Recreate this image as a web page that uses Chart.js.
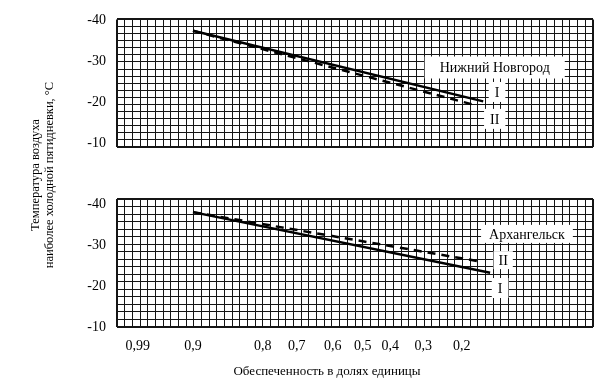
<!DOCTYPE html>
<html>
<head>
<meta charset="utf-8">
<script src="https://cdn.jsdelivr.net/npm/chart.js@4.4.0/dist/chart.umd.min.js"></script>
<style>
  body { margin: 0; background: #fff; }
  .wrap { position: relative; width: 612px; height: 385px; }
  .wrap canvas { position: absolute; left: 0; top: 0; }
</style>
</head>
<body>
<div class="wrap">
  <canvas id="top" width="612" height="385"></canvas>
  <canvas id="bottom" width="612" height="385"></canvas>
</div>
<script>
// probability paper: x in grid cells (0..62), labels placed where the paper prints them
const probLabels = ['0,99', '0,9', '0,8', '0,7', '0,6', '0,5', '0,4', '0,3', '0,2'];
const probPos = [2.7, 9.9, 19.0, 23.4, 28.1, 32.0, 35.6, 39.9, 44.9];
const tempTicks = [-40, -30, -20, -10];

// Нижний Новгород
const nnXI = [9.9, 47.7];
const nnI = [-37.5, -20.2];
const nnXII = [9.9, 46.8];
const nnII = [-37.5, -19.2];

// Архангельск
const arXI = [9.9, 48.6];
const arI = [-38.0, -23.2];
const arXII = [9.9, 47.5];
const arII = [-38.0, -25.9];

const serif = '"Liberation Serif", "DejaVu Serif", serif';
const gridColor = '#151515';

const pts = (xs, ys) => xs.map((x, i) => ({ x: x, y: ys[i] }));

// frame lines a bit heavier than the paper grid
const edgeWidth = c => (c.tick && (c.index === 0 || c.tick.value === c.scale.max)) ? 2 : 1;

// white boxed labels on the paper
const tagsPlugin = {
  id: 'tags',
  afterDatasetsDraw(chart, args, opts) {
    const ctx = chart.ctx;
    const xs = chart.scales.x, ys = chart.scales.y;
    ctx.save();
    ctx.font = '14px ' + serif;
    ctx.textAlign = 'center';
    ctx.textBaseline = 'middle';
    (opts.items || []).forEach(t => {
      const px = xs.getPixelForValue(t.x);
      const py = ys.getPixelForValue(t.y);
      const w = ctx.measureText(t.text).width + t.padX * 2;
      const h = 14 + t.padY * 2;
      ctx.fillStyle = '#fff';
      ctx.fillRect(px - w / 2, py - h / 2, w, h);
      ctx.fillStyle = '#000';
      ctx.fillText(t.text, px, py + 1);
    });
    ctx.restore();
  }
};

// shared y title spanning both panels
const yTitlePlugin = {
  id: 'ytitle',
  afterDraw(chart, args, opts) {
    if (!opts.lines) return;
    const ctx = chart.ctx;
    ctx.save();
    ctx.font = '12.5px ' + serif;
    ctx.fillStyle = '#000';
    ctx.textAlign = 'center';
    ctx.textBaseline = 'middle';
    opts.lines.forEach((line, i) => {
      ctx.save();
      ctx.translate(opts.x + i * 14, opts.y);
      ctx.rotate(-Math.PI / 2);
      ctx.fillText(line, 0, 0);
      ctx.restore();
    });
    ctx.restore();
  }
};

Chart.register(tagsPlugin, yTitlePlugin);

function makePanel(canvasId, cfg) {
  const scales = {
    x: {
      type: 'linear', min: 0, max: 62,
      display: cfg.showX,
      grid: { display: false, drawTicks: false },
      border: { display: false },
      afterBuildTicks: s => { s.ticks = probPos.map(v => ({ value: v })); },
      afterFit: s => { s.height = cfg.showX ? 32.4 : 0; },
      ticks: {
        autoSkip: false, maxRotation: 0, padding: 11, color: '#000',
        font: { family: serif, size: 14 },
        callback: (v, i) => probLabels[i]
      }
    },
    xg: {
      type: 'linear', min: 0, max: 62, position: 'bottom',
      grid: { color: gridColor, lineWidth: edgeWidth, drawTicks: false },
      border: { display: false },
      ticks: { display: false, stepSize: 1 },
      afterFit: s => { s.height = 0; }
    },
    y: {
      type: 'linear', reverse: true, min: cfg.yMin, max: cfg.yMax,
      grid: { display: false, drawTicks: false },
      border: { display: false },
      afterBuildTicks: s => { s.ticks = tempTicks.map(v => ({ value: v })); },
      afterFit: s => { s.width = 56; },
      ticks: {
        padding: 11, color: '#000',
        font: { family: serif, size: 14 }
      }
    },
    yg: {
      type: 'linear', min: 0, max: cfg.rows, position: 'left',
      grid: { color: gridColor, lineWidth: edgeWidth, drawTicks: false },
      border: { display: false },
      ticks: { display: false, stepSize: 1 },
      afterFit: s => { s.width = 0; }
    }
  };

  return new Chart(document.getElementById(canvasId), {
    type: 'line',
    data: {
      datasets: [
        {
          label: 'I',
          data: cfg.lineI,
          borderColor: '#000', borderWidth: 2.5,
          pointRadius: 0, tension: 0
        },
        {
          label: 'II',
          data: cfg.lineII,
          borderColor: '#000', borderWidth: 2.5, borderDash: [8, 6],
          pointRadius: 0, tension: 0
        }
      ]
    },
    options: {
      responsive: false,
      animation: false,
      devicePixelRatio: 1,
      layout: { padding: cfg.padding },
      scales: scales,
      plugins: {
        legend: { display: false },
        tooltip: { enabled: false },
        title: cfg.title,
        tags: { items: cfg.tags },
        ytitle: cfg.ytitle
      }
    }
  });
}

makePanel('top', {
  showX: false,
  yMin: -40.3, yMax: -9.0, rows: 18,
  padding: { left: 61, right: 19, top: 15, bottom: 238 },
  lineI: pts(nnXI, nnI),
  lineII: pts(nnXII, nnII),
  title: { display: false },
  ytitle: {},
  tags: [
    { text: 'Нижний Новгород', x: 49.2, y: -28.5, padX: 15, padY: 4 },
    { text: 'I', x: 49.5, y: -22.5, padX: 6, padY: 3 },
    { text: 'II', x: 49.2, y: -15.9, padX: 6, padY: 3 }
  ]
});

makePanel('bottom', {
  showX: true,
  yMin: -41.2, yMax: -10, rows: 17,
  padding: { left: 61, right: 19, top: 199, bottom: 0 },
  lineI: pts(arXI, arI),
  lineII: pts(arXII, arII),
  title: {
    display: true, position: 'bottom',
    text: 'Обеспеченность в долях единицы',
    color: '#000',
    font: { family: serif, size: 13, weight: 'normal' },
    padding: { top: 4, bottom: 6 }
  },
  ytitle: {
    lines: ['Температура воздуха', 'наиболее холодной пятидневки, °С'],
    x: 36, y: 175
  },
  tags: [
    { text: 'Архангельск', x: 53.4, y: -32.7, padX: 8, padY: 2 },
    { text: 'II', x: 50.3, y: -26.3, padX: 5, padY: 2 },
    { text: 'I', x: 49.9, y: -19.5, padX: 6, padY: 3 }
  ]
});
</script>
</body>
</html>
